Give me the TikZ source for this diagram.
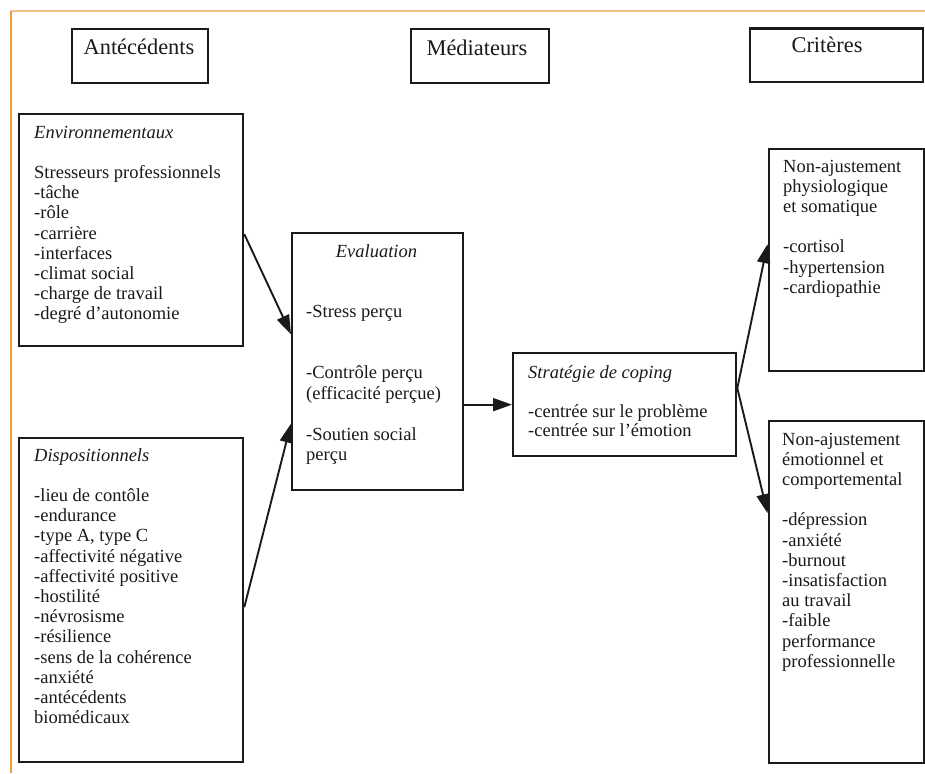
\documentclass[tikz,border=0pt]{standalone}
\usepackage{fontspec}
\setmainfont{Liberation Serif}
\usetikzlibrary{arrows.meta}
\definecolor{ink}{HTML}{1A1A1A}
\definecolor{frametop}{HTML}{F4BE85}
\definecolor{frameleft}{HTML}{EF9B3D}
\newcommand{\txtlines}[1]{\begin{tabular}[t]{@{}l@{}}#1\end{tabular}}
\tikzset{
  box/.style={draw=ink, line width=2.3pt, inner sep=0pt, anchor=north west},
  head/.style={font=\fontsize{22.4pt}{26pt}\selectfont, text=ink, inner sep=0pt, anchor=base},
  txt/.style={font=\fontsize{18.5pt}{20.2pt}\selectfont, text=ink, inner sep=0pt, anchor=base west},
  arr/.style={draw=ink, fill=ink, line width=1.9pt, arrows={-Triangle[length=19pt,width=13pt]}}
}
\begin{document}
\begin{tikzpicture}[x=1pt,y=-1pt]
\useasboundingbox (0,0) rectangle (925,773);
\fill[white] (0,0) rectangle (925,773);
\draw[frametop, line width=1.5pt] (11,11) -- (925,11);
\draw[frameleft, line width=1.5pt] (11,11) -- (11,773);

% boxes
\node[box, minimum width=136pt, minimum height=54pt] (antb) at (71,28) {};
\node[box, minimum width=138pt, minimum height=54pt] (medb) at (410,28) {};
\node[box, minimum width=172.5pt, minimum height=53.5pt] (crib) at (749,27.5) {};
\node[box, minimum width=224pt, minimum height=232pt] (env) at (18,113) {};
\node[box, minimum width=224pt, minimum height=324pt] (disp) at (18,437) {};
\node[box, minimum width=171pt, minimum height=257pt] (eval) at (291,232) {};
\node[box, minimum width=223pt, minimum height=103pt] (cop) at (512,352) {};
\node[box, minimum width=155pt, minimum height=222pt] (phys) at (767.5,148) {};
\node[box, minimum width=155pt, minimum height=342pt] (emo) at (767.5,420) {};

% headings
\node[head] (antt) at (139,55) {Antécédents};
\node[head] (medt) at (477,56) {Médiateurs};
\node[head] (crit) at (827,53) {Critères};

% texts
\node[txt] (envt) at (34,138) {\txtlines{\textit{Environnementaux}\\ \\
Stresseurs professionnels\\ -tâche\\ -rôle\\ -carrière\\ -interfaces\\
-climat social\\ -charge de travail\\ -degré d’autonomie}};
\node[txt] (dispt) at (34,461) {\txtlines{\textit{Dispositionnels}\\ \\
-lieu de contôle\\ -endurance\\ -type A, type C\\ -affectivité négative\\
-affectivité positive\\ -hostilité\\ -névrosisme\\ -résilience\\
-sens de la cohérence\\ -anxiété\\ -antécédents\\ biomédicaux}};
\node[txt, anchor=base] (evalh) at (376.5,257) {\textit{Evaluation}};
\node[txt, font=\fontsize{18.5pt}{20.5pt}\selectfont] (evalt) at (306,317) {\txtlines{-Stress perçu\\ \\ \\
-Contrôle perçu\\ (efficacité perçue)\\ \\ -Soutien social\\ perçu}};
\node[txt, font=\fontsize{18.5pt}{19.5pt}\selectfont] (copt) at (528,378) {\txtlines{\textit{Stratégie de coping}\\ \\
-centrée sur le problème\\ -centrée sur l’émotion}};
\node[txt] (physt) at (783,172) {\txtlines{Non-ajustement\\ physiologique\\ et somatique\\ \\
-cortisol\\ -hypertension\\ -cardiopathie}};
\node[txt] (emot) at (782,445) {\txtlines{Non-ajustement\\ émotionnel et\\ comportemental\\ \\
-dépression\\ -anxiété\\ -burnout\\ -insatisfaction\\ au travail\\ -faible\\
performance\\ professionnelle}};

% connectors
\draw[arr] ([yshift=-4pt]env.east) -- ([yshift=27.5pt]eval.west);
\draw[arr] ([yshift=-7pt]disp.east) -- ([yshift=-62pt]eval.west);
\draw[arr] (eval.east |- cop.west) -- (cop.west);
\coordinate (copout) at ([yshift=16.5pt]cop.east);
\draw[arr] (copout) -- ([yshift=16pt]phys.west);
\draw[arr] (copout) -- ([yshift=79pt]emo.west);
\end{tikzpicture}
\end{document}
